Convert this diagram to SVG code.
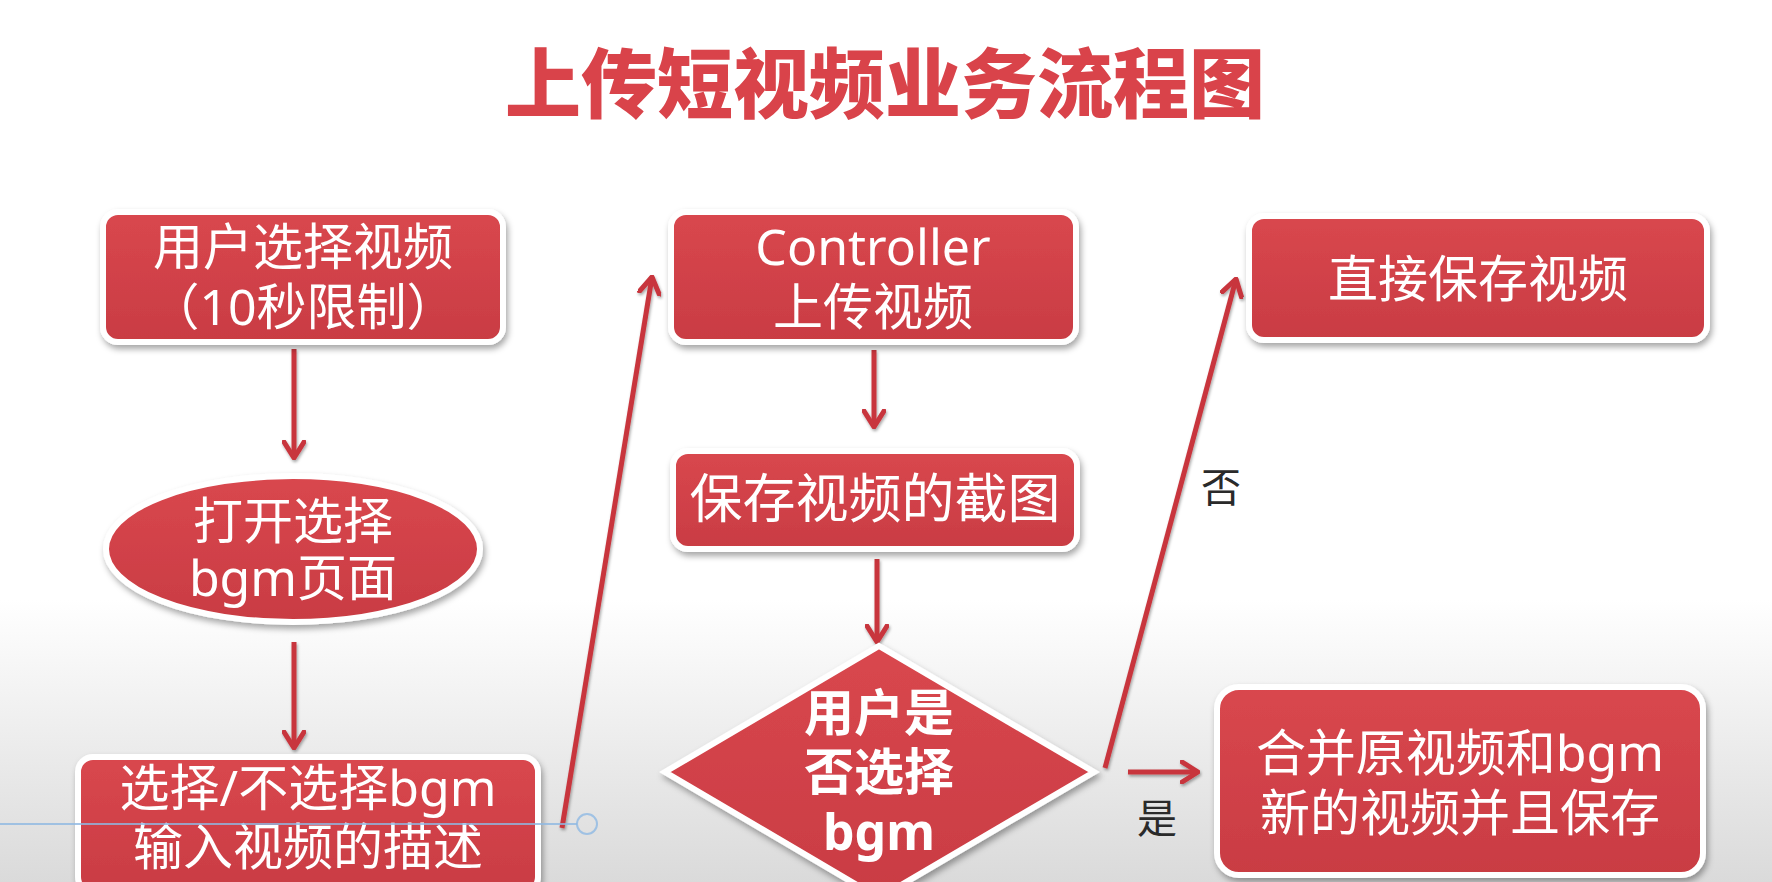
<svg xmlns="http://www.w3.org/2000/svg" width="1772" height="882" viewBox="0 0 1772 882">
<defs>
<linearGradient id="bg" x1="0" y1="0" x2="0" y2="1">
<stop offset="0" stop-color="#ffffff"/>
<stop offset="0.68" stop-color="#ffffff"/>
<stop offset="1" stop-color="#dadada"/>
</linearGradient>
<linearGradient id="red" x1="0" y1="0" x2="0" y2="1">
<stop offset="0" stop-color="#d9474e"/>
<stop offset="1" stop-color="#c93c43"/>
</linearGradient>
<filter id="sh" x="-10%" y="-10%" width="120%" height="130%">
<feDropShadow dx="2" dy="4" stdDeviation="3" flood-color="#000" flood-opacity="0.35"/>
</filter>
<filter id="ash" filterUnits="userSpaceOnUse" x="0" y="0" width="1772" height="882">
<feDropShadow dx="1" dy="2" stdDeviation="1.5" flood-color="#000" flood-opacity="0.35"/>
</filter>
<marker id="arr" viewBox="0 0 20 24" refX="18" refY="12" markerWidth="20" markerHeight="24" markerUnits="userSpaceOnUse" orient="auto">
<path d="M2,2 L18,12 L2,22" fill="none" stroke="#c8363e" stroke-width="5" stroke-linecap="round" stroke-linejoin="round"/>
</marker>
<style>
.box{fill:url(#red);stroke:#fff;stroke-width:6;filter:url(#sh)}
.t{font-family:"Noto Sans","Noto Sans CJK SC",sans-serif;font-size:50px;fill:#fff;text-anchor:middle}
.b{font-weight:bold}
.lbl{font-family:"Noto Sans CJK SC",sans-serif;font-size:40px;fill:#2a2a2a;text-anchor:middle}
.ar{fill:none;stroke:#c8363e;stroke-width:5;marker-end:url(#arr)}
.title{font-family:"Noto Sans CJK SC",sans-serif;font-weight:900;font-size:76px;fill:#d9434a;text-anchor:middle}
</style>
</defs>
<rect x="0" y="0" width="1772" height="882" fill="url(#bg)"/>
<text class="title" x="885" y="112">上传短视频业务流程图</text>

<g id="connectors" filter="url(#ash)">
<path class="ar" d="M294,349 L294,458"/>
<path class="ar" d="M294,642 L294,748"/>
<path class="ar" d="M562,828 L652,277"/>
<path class="ar" d="M874,350 L874,427"/>
<path class="ar" d="M877,559 L877,642"/>
<path class="ar" d="M1105,768 L1236,279"/>
<path class="ar" d="M1128,772 L1198,772"/>
</g>

<g id="n1">
<rect class="box" x="103" y="212" width="400" height="130" rx="15"/>
<text class="t"><tspan x="303" y="265">用户选择视频</tspan><tspan x="303" y="325">（10秒限制）</tspan></text>
</g>
<g id="n2">
<ellipse class="box" cx="293" cy="549" rx="187" ry="73"/>
<text class="t"><tspan x="293" y="539">打开选择</tspan><tspan x="293" y="596">bgm页面</tspan></text>
</g>
<g id="n3">
<rect class="box" x="78" y="757" width="460" height="135" rx="15"/>
<text class="t"><tspan x="308" y="806">选择/不选择bgm</tspan><tspan x="308" y="865">输入视频的描述</tspan></text>
</g>
<g id="n4">
<rect class="box" x="671" y="212" width="405" height="130" rx="15"/>
<text class="t"><tspan x="873" y="265">Controller</tspan><tspan x="873" y="325">上传视频</tspan></text>
</g>
<g id="n5">
<rect class="box" x="673" y="451" width="404" height="98" rx="15"/>
<text class="t" x="875" y="518" style="font-size:53px">保存视频的截图</text>
</g>
<g id="n6">
<polygon class="box" points="879,646 1094,772 879,898 665,772"/>
<text class="t b"><tspan x="879" y="731">用户是</tspan><tspan x="879" y="790">否选择</tspan><tspan x="879" y="850">bgm</tspan></text>
</g>
<g id="n7">
<rect class="box" x="1249" y="216" width="458" height="124" rx="15"/>
<text class="t" x="1478" y="297">直接保存视频</text>
</g>
<g id="n8">
<rect class="box" x="1217" y="687" width="486" height="188" rx="22"/>
<text class="t"><tspan x="1460" y="771">合并原视频和bgm</tspan><tspan x="1460" y="831">新的视频并且保存</tspan></text>
</g>

<text class="lbl" x="1221" y="502">否</text>
<text class="lbl" x="1157" y="833">是</text>

<g id="overlay">
<line x1="0" y1="824" x2="577" y2="824" stroke="#8fb9e3" stroke-width="2" opacity="0.8"/>
<circle cx="587" cy="824" r="10" fill="none" stroke="#8fb9e3" stroke-width="2" opacity="0.8"/>
</g>
</svg>
